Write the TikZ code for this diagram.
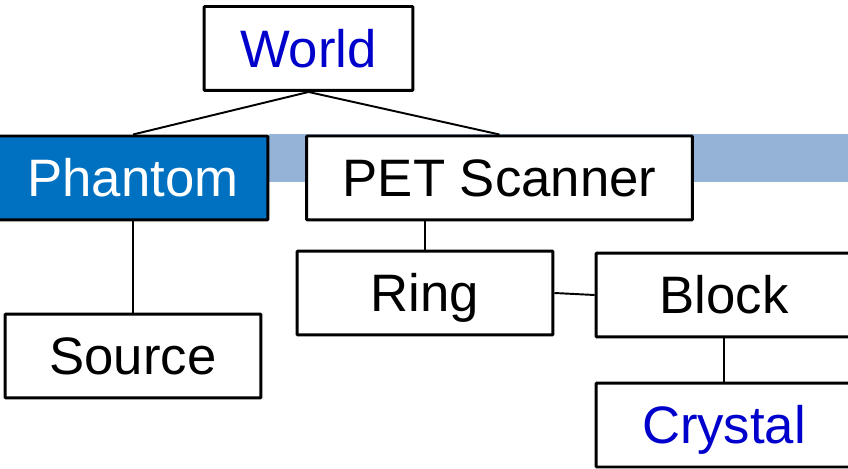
\documentclass[tikz,border=0pt]{standalone}
\usepackage{fontspec}
\setmainfont{Liberation Sans}
\usepackage{tikz}

\definecolor{bandblue}{HTML}{95B3D7}
\definecolor{fillblue}{HTML}{0070C0}
\definecolor{textblue}{HTML}{0000CC}

\begin{document}
\begin{tikzpicture}[x=0.02cm, y=-0.02cm,
    box/.style={draw=black, line width=1.7pt, fill=white, rounded corners=0.5pt,
        minimum height=1.68cm, inner sep=0pt, text height=21.5pt, text depth=0pt,
        font=\fontsize{30}{36}\selectfont},
    link/.style={draw=black, line width=1.1pt}]

    \useasboundingbox (0,0) rectangle (848,469);
    \clip (0,0) rectangle (848,469);

    % band behind the second row
    \fill[bandblue] (269,134) rectangle (848,182);

    \node[box, minimum width=4.18cm, text=textblue] (world) at (308.5,48.5) {World};
    \node[box, minimum width=5.40cm, fill=fillblue, text=white] (phantom) at (133,178) {Phantom};
    \node[box, minimum width=7.72cm] (pet) at (499.5,178) {PET Scanner};
    \node[box, minimum width=5.12cm] (source) at (133,356) {Source};
    \node[box, minimum width=5.12cm] (ring) at (425,293) {Ring};
    \node[box, minimum width=5.12cm] (block) at (724,295) {Block};
    \node[box, minimum width=5.12cm, text=textblue] (crystal) at (724,425) {Crystal};

    \draw[link] (world.south) -- (phantom.north);
    \draw[link] (world.south) -- (pet.north);
    \draw[link] (phantom.south) -- (source.north);
    \draw[link] (ring.north) -- (ring.north |- pet.south);
    \draw[link] (ring.east) -- (block.west);
    \draw[link] (block.south) -- (crystal.north);

\end{tikzpicture}
\end{document}
